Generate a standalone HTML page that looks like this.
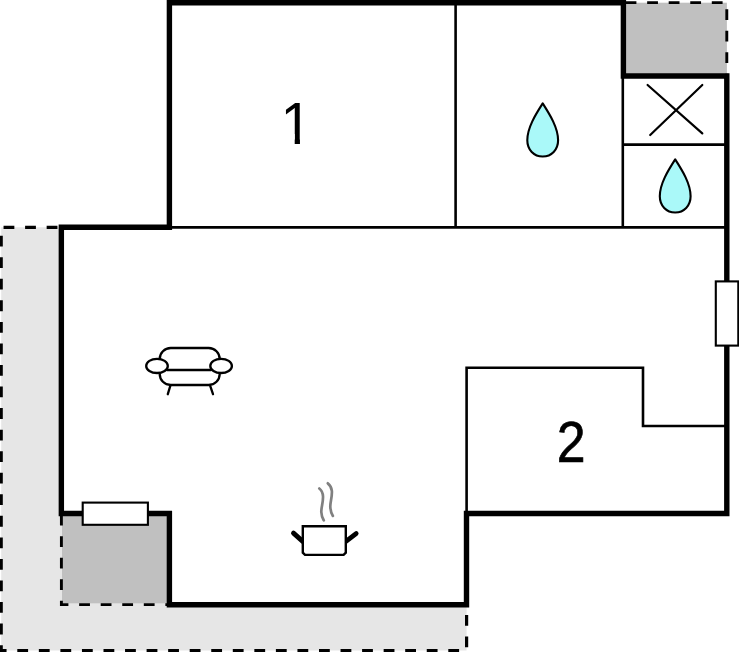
<!DOCTYPE html>
<html>
<head>
<meta charset="utf-8">
<title>Floor plan</title>
<style>
html,body{margin:0;padding:0;background:#fff;}
body{width:739px;height:652px;overflow:hidden;}
svg{display:block;}
text{font-family:"Liberation Sans",sans-serif;fill:#000;}
</style>
</head>
<body>
<svg width="739" height="652" viewBox="0 0 739 652">
<rect width="739" height="652" fill="#fff"/>
<!-- terrace light gray -->
<path d="M1.2 227.3H61.5V513H169V605H466.6V650.5H1.2Z" fill="#e6e6e6"/>
<!-- dark gray boxes -->
<rect x="62" y="513.5" width="107.2" height="89.8" fill="#c0c0c0"/>
<rect x="623.5" y="2.7" width="103.4" height="73" fill="#c0c0c0"/>
<!-- dashed outlines -->
<path d="M61.5 227.3H1.2V650.6H466.6V605" fill="none" stroke="#000" stroke-width="3.2" stroke-dasharray="10.8 10.75" stroke-dashoffset="17.5"/>
<g fill="none" stroke="#000" stroke-width="2.9" stroke-dasharray="10.8 10.75">
<path d="M61.4 513.5V604.65H169" stroke-dashoffset="20.4"/>
<path d="M623.4 2.6H726.8V75.7" stroke-dashoffset="19.35"/>
</g>
<!-- thin interior lines -->
<g fill="none" stroke="#000" stroke-width="2.6">
<path d="M169.5 227.4H727"/>
<path d="M455.6 3V227.4"/>
<path d="M622.8 75.5V227.4"/>
<path d="M622.8 144.6H727"/>
<path d="M466.6 513V367.7H643V426H727"/>
</g>
<path d="M647.6 85L702.3 133.4M702.3 85L650.2 135" fill="none" stroke="#000" stroke-width="2.2" stroke-linecap="round"/>
<!-- thick walls -->
<path d="M169.4 2.7H623.4V76H726.8V513.5H466.5V604.8H169.4V513.5H61.35V227.3H169.4Z" fill="none" stroke="#000" stroke-width="5.4" stroke-linejoin="miter"/>
<!-- windows -->
<g fill="#fff" stroke="#000" stroke-width="2.1">
<rect x="715.8" y="281.4" width="22.5" height="64.2"/>
<rect x="82.7" y="502.6" width="65.2" height="22.2"/>
</g>
<!-- labels -->
<clipPath id="c1"><path d="M278 98H299.95V146H294.7V134H278Z"/></clipPath>
<g clip-path="url(#c1)"><text transform="translate(296.3,143.6) scale(0.97,1.015)" font-size="58.5" text-anchor="middle">1</text></g>
<text transform="translate(571.1,462) scale(0.904,1)" font-size="57.3" text-anchor="middle" stroke="#000" stroke-width="0.7">2</text>
<!-- drops -->
<g fill="#aaf9f9" stroke="#000" stroke-width="2.1" stroke-linejoin="round">
<path d="M0 -0.4C7.2 10.8 15.4 24 15.4 36.5C15.4 46 8.8 52.7 0 52.7C-8.8 52.7 -15.4 46 -15.4 36.5C-15.4 24 -7.2 10.8 0 -0.4Z" transform="translate(542.7,103.8)"/>
<path d="M0 -0.4C7.2 10.8 15.4 24 15.4 36.5C15.4 46 8.8 52.7 0 52.7C-8.8 52.7 -15.4 46 -15.4 36.5C-15.4 24 -7.2 10.8 0 -0.4Z" transform="translate(675.2,159.8)"/>
</g>
<!-- sofa -->
<g fill="#fff" stroke="#000" stroke-width="2.3" stroke-linecap="round">
<path d="M170.3 385.8L167.8 394.2M210.2 385.8L213 394.2"/>
<rect x="159.7" y="348" width="60" height="37" rx="11" ry="11"/>
<path d="M167 370H211" fill="none"/>
<ellipse cx="157" cy="365.9" rx="10.8" ry="7.1"/>
<ellipse cx="221.1" cy="365.9" rx="10.8" ry="7.1"/>
</g>
<!-- pot -->
<g fill="none" stroke="#000">
<path d="M293.5 533.2L303 541.6M356.1 533.6L345.6 541.6" stroke-width="4.9" stroke-linecap="round"/>
<path d="M302.8 526.3H345.8V552.7L343.6 554.9H305L302.8 552.7Z" fill="#fff" stroke-width="2.4"/>
<path d="M319.3 488.5C326.5 494 321 506 321.3 512C321.6 517 323 519 323.8 520.4M327.8 483.3C335.5 489 330 500 330.3 507C330.6 512 332 514.5 332.9 515.9" stroke="#808080" stroke-width="2.7" stroke-linecap="round"/>
</g>
</svg>
</body>
</html>
